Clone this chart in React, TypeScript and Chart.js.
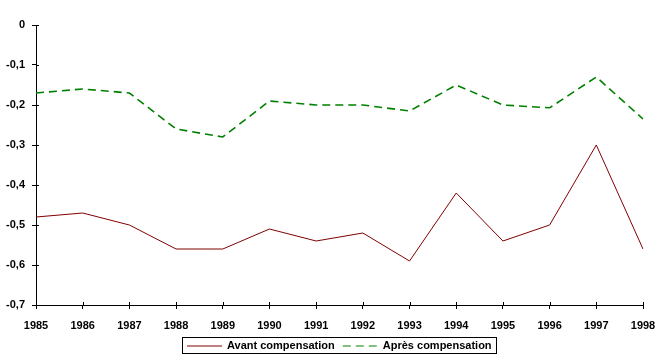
import React, { useEffect, useRef } from "react";
import { Chart, registerables } from "chart.js";

Chart.register(...registerables);

const years = ["1985","1986","1987","1988","1989","1990","1991","1992","1993","1994","1995","1996","1997","1998"];
const avantCompensation = [-0.48,-0.47,-0.50,-0.56,-0.56,-0.51,-0.54,-0.52,-0.59,-0.42,-0.54,-0.50,-0.30,-0.56];
const apresCompensation = [-0.17,-0.16,-0.17,-0.26,-0.28,-0.19,-0.20,-0.20,-0.215,-0.15,-0.20,-0.207,-0.13,-0.235];
const seriesNames = ["Avant compensation", "Après compensation"];

const FONT_FAMILY = "'Liberation Sans', Arial, sans-serif";
const FONT = { family: FONT_FAMILY, size: 11, weight: "bold" as const };
const DASH = [8, 5];

const customDecor = {
  id: "customDecor",
  afterDraw(chart: any) {
    const ctx = chart.ctx;
    const { x, y } = chart.scales;
    ctx.save();
    ctx.strokeStyle = "#000";
    ctx.lineWidth = 1;
    ctx.setLineDash([]);
    ctx.beginPath();
    x.ticks.forEach((_: any, i: number) => {
      const px = Math.round(x.getPixelForTick(i)) + 0.5;
      ctx.moveTo(px, x.top);
      ctx.lineTo(px, x.top - 3);
    });
    y.ticks.forEach((_: any, i: number) => {
      const py = Math.round(y.getPixelForTick(i)) + 0.5;
      ctx.moveTo(y.right, py);
      ctx.lineTo(y.right + 3, py);
    });
    ctx.stroke();

    // legend
    const ds = chart.data.datasets;
    ctx.font = `bold 11px ${FONT_FAMILY}`;
    ctx.textBaseline = "middle";
    ctx.fillStyle = "#000";
    const lineLen = 35;
    const gapText = 5;
    const gapItem = 8;
    const padL = 5;
    const padR = 4;
    const widths = ds.map((d: any) => ctx.measureText(d.label).width);
    let total = padL + padR;
    ds.forEach((_: any, i: number) => {
      total += lineLen + gapText + widths[i];
      if (i < ds.length - 1) total += gapItem;
    });
    const centerX = 338.5;
    const left = Math.round(centerX - total / 2);
    const top = 337;
    const bottom = 353;
    const cy = (top + bottom) / 2 + 0.5;
    ctx.strokeRect(left + 0.5, top + 0.5, Math.round(total), bottom - top);
    let cx = left + padL;
    ds.forEach((d: any, i: number) => {
      ctx.save();
      ctx.strokeStyle = d.borderColor;
      ctx.lineWidth = 1;
      ctx.setLineDash(d.borderDash || []);
      ctx.beginPath();
      ctx.moveTo(cx, Math.round(cy) + 0.5 - 0.5);
      ctx.lineTo(cx + lineLen, Math.round(cy) + 0.5 - 0.5);
      ctx.stroke();
      ctx.restore();
      cx += lineLen + gapText;
      ctx.fillText(d.label, cx, cy);
      cx += widths[i] + gapItem;
    });
    ctx.restore();
  },
};

export default function App() {
  const ref = useRef<HTMLCanvasElement>(null);
  useEffect(() => {
    document.body.style.margin = "0";
    const chart = new Chart(ref.current as HTMLCanvasElement, {
      type: "line",
      data: {
        labels: years,
        datasets: [
          {
            label: seriesNames[0],
            data: avantCompensation,
            borderColor: "#800000",
            backgroundColor: "#800000",
            borderWidth: 1,
            pointRadius: 0,
            tension: 0,
          },
          {
            label: seriesNames[1],
            data: apresCompensation,
            borderColor: "#008000",
            backgroundColor: "#008000",
            borderWidth: 1.6,
            borderDash: DASH,
            pointRadius: 0,
            tension: 0,
          },
        ],
      },
      options: {
        animation: false,
        responsive: false,
        maintainAspectRatio: false,
        layout: { padding: { left: 0, right: 26, top: 25, bottom: 58 - 30 } },
        plugins: {
          tooltip: { enabled: false },
          legend: { display: false },
        },
        scales: {
          x: {
            type: "category",
            offset: false,
            grid: { display: true, drawOnChartArea: false, drawTicks: true, tickLength: 4, color: "#000" },
            border: { display: true, color: "#000" },
            ticks: { font: FONT, color: "#000", padding: 10, maxRotation: 0, autoSkip: false },
            afterFit: (s: any) => { s.height = 30; },
          },
          y: {
            min: -0.7,
            max: 0,
            grid: { display: true, drawOnChartArea: false, drawTicks: true, tickLength: 4, color: "#000" },
            border: { display: true, color: "#000" },
            ticks: {
              stepSize: 0.1,
              font: FONT,
              color: "#000",
              padding: 7,
              callback: (v: any) => {
                const n = Number(v);
                if (Math.abs(n) < 1e-9) return "0";
                return n.toFixed(1).replace(".", ",");
              },
            },
            afterFit: (s: any) => { s.width = 36; },
          },
        },
      },
      plugins: [customDecor],
    });
    return () => chart.destroy();
  }, []);
  return (
    <div style={{ width: 669, height: 363, background: "#fff" }}>
      <canvas ref={ref} width={669} height={363} style={{ display: "block" }} />
    </div>
  );
}
